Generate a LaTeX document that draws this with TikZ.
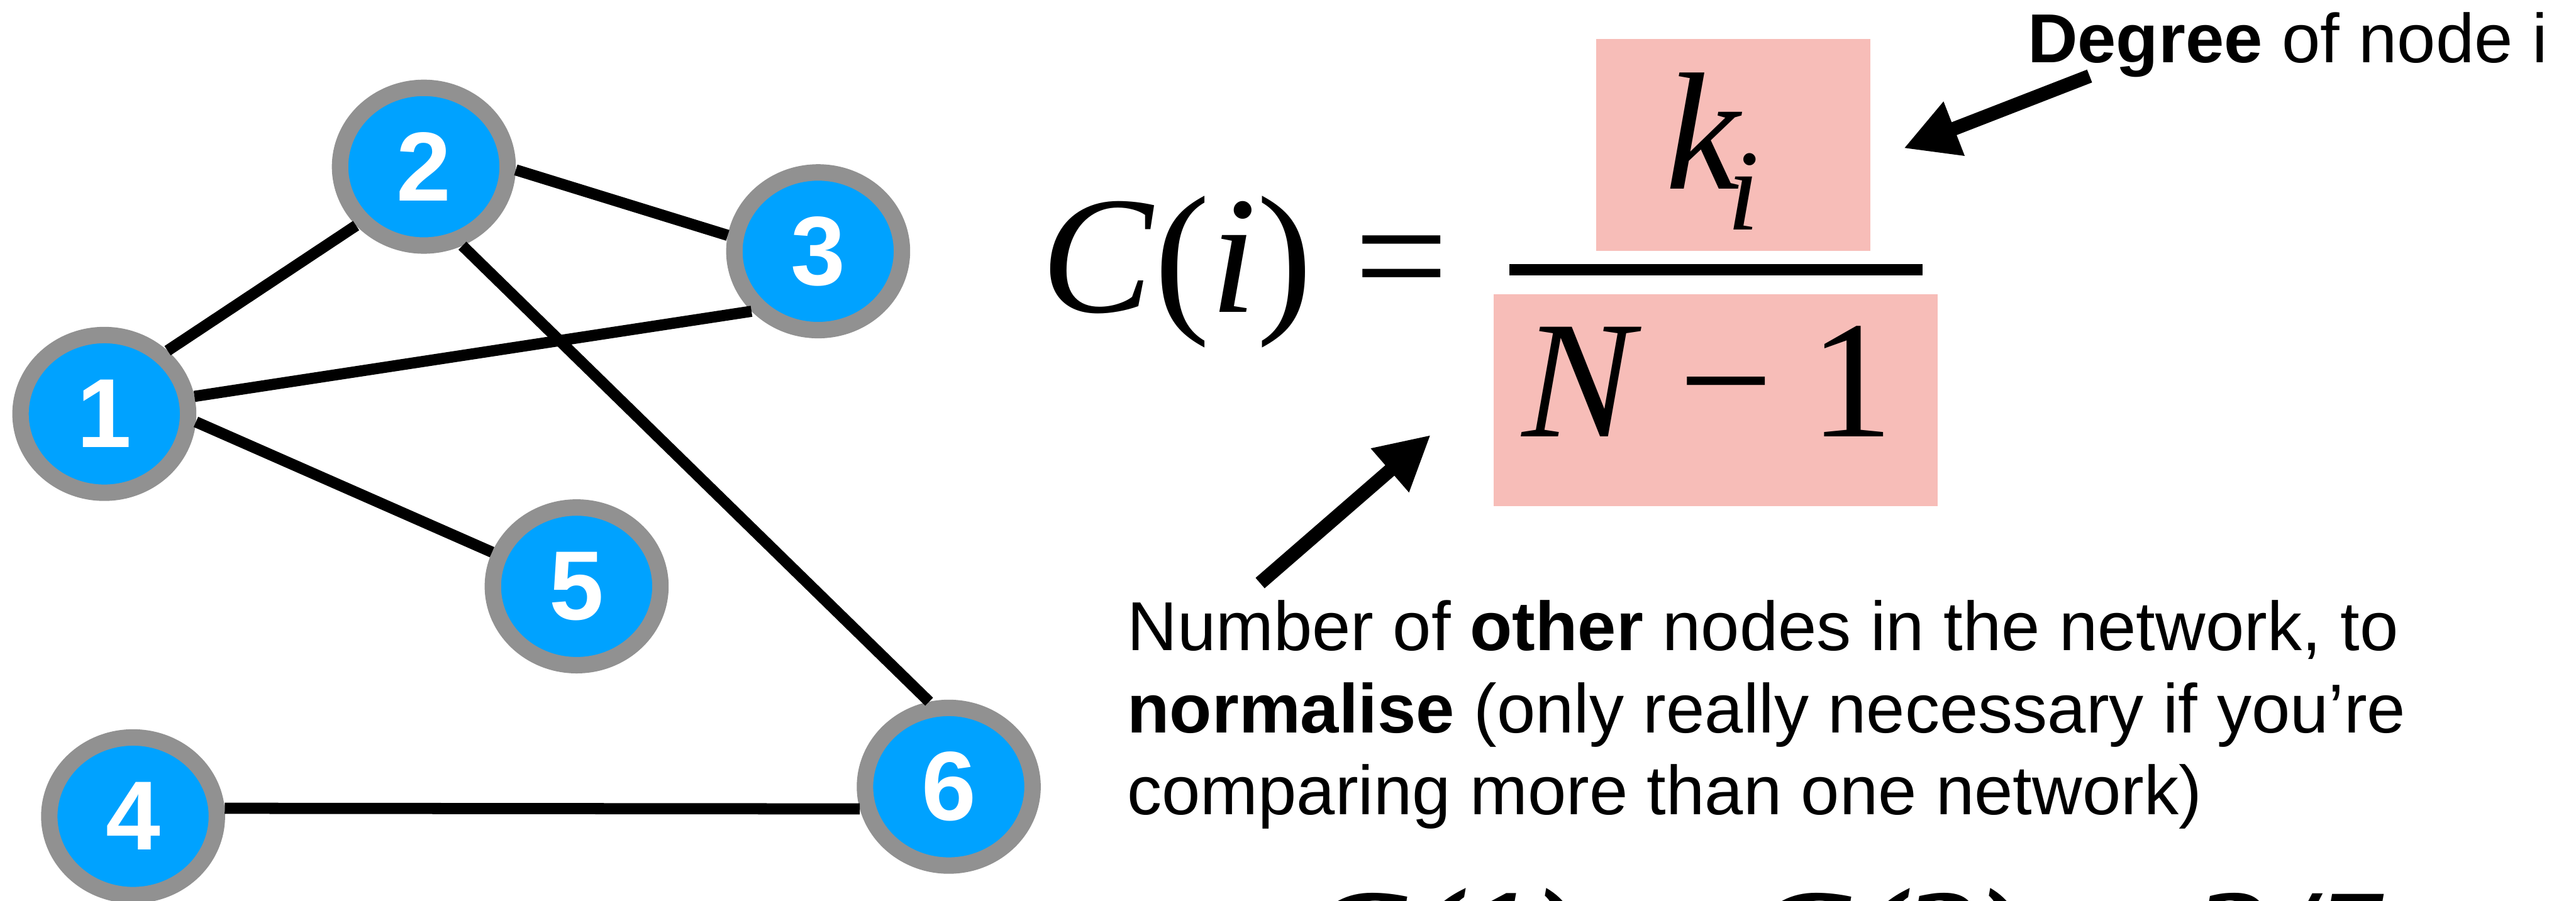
\documentclass[tikz,border=0pt]{standalone}
\usepackage{fontspec}
\setmainfont{Liberation Sans}
\newfontfamily\timesfont{Liberation Serif}
\usetikzlibrary{arrows.meta,positioning,shapes.geometric}
\definecolor{nodeblue}{HTML}{00A2FF}
\definecolor{ringgray}{HTML}{919191}
\definecolor{boxpink}{HTML}{F7BDB8}

\begin{document}
\begin{tikzpicture}[>={Triangle[length=3.3mm,width=3.3mm]},
  vertex/.style={ellipse,draw=ringgray,fill=nodeblue,line width=1mm,
    minimum width=10.2mm,minimum height=9.6mm,inner sep=0pt,
    text=white,font=\fontsize{17}{17}\selectfont\bfseries},
  edge/.style={line width=0.68mm},
  pointer/.style={->,line width=0.84mm},
  note/.style={inner sep=0pt,anchor=base west,font=\fontsize{12}{14}\selectfont},
  eq/.style={inner sep=0pt,anchor=base west,font=\timesfont\fontsize{29}{29}\selectfont},
  pinkbox/.style={fill=boxpink,inner sep=0pt}]
  \useasboundingbox (0,0) rectangle (15.68,5.485);
  \clip (0,0) rectangle (15.68,5.485);
  % the network
  \node[vertex] (n1) at (0.635,2.965) {1};
  \node[vertex] (n2) at (2.58,4.47) {2};
  \node[vertex] (n3) at (4.98,3.955) {3};
  \node[vertex] (n4) at (0.81,0.515) {4};
  \node[vertex] (n5) at (3.51,1.915) {5};
  \node[vertex] (n6) at (5.775,0.695) {6};
  \draw[edge] (n1.45) -- (n2.221);
  \draw[edge] (n1.11) -- (n3.222);
  \draw[edge] (n1.-5) -- (n5.158);
  \draw[edge] (n2.-2) -- (n3.170);
  \draw[edge] (n2.-64) -- (n6.103);
  \draw[edge] (n4.5) -- (n6.194);
  % degree centrality
  \node[pinkbox,minimum width=16.66mm,minimum height=12.93mm] (numbox) at (10.55,4.6025) {};
  \node[pinkbox,minimum width=27.05mm,minimum height=12.9mm] (denbox) at (10.4425,3.05) {};
  \node[eq] (lhs) at (6.33,3.585) {\textit{C}(\textit{i}) =};
  \node[eq] (ki) at (10.13,4.335) {\textit{k}\kern-0.09cm\raisebox{-0.25cm}{\fontsize{20}{20}\selectfont\textit{i}}};
  \node[eq] (nm) at (9.26,2.825) {\textit{N}\hspace{0.22em}−\hspace{0.22em}1};
  \draw[line width=0.69mm] (9.188,3.8425) -- (11.704,3.8425);
  % notes
  \node[note] (deg) at (12.335,5.105) {\textbf{Degree} of node i};
  \coordinate (degtail) at (12.719,5.022);
  \coordinate (degtip) at (11.587,4.582);
  \draw[pointer] (degtail) -- (degtip);
  \node[note] (l1) at (6.855,1.525) {Number of \textbf{other} nodes in the network, to};
  \node[note,below=0.5cm of l1.base west,anchor=base west] (l2) {\textbf{normalise} (only really necessary if you’re};
  \node[note,below=0.5cm of l2.base west,anchor=base west] (l3) {comparing more than one network)};
  \coordinate (othtail) at (7.67,1.935);
  \coordinate (othtip) at (8.709,2.837);
  \draw[pointer] (othtail) -- (othtip);
  \node[inner sep=0pt,anchor=base west,font=\timesfont\bfseries\itshape\fontsize{26.5}{26.5}\selectfont] (ex) at (7.93,-0.57) {C(1) = C(2) = 3/5};
\end{tikzpicture}
\end{document}
